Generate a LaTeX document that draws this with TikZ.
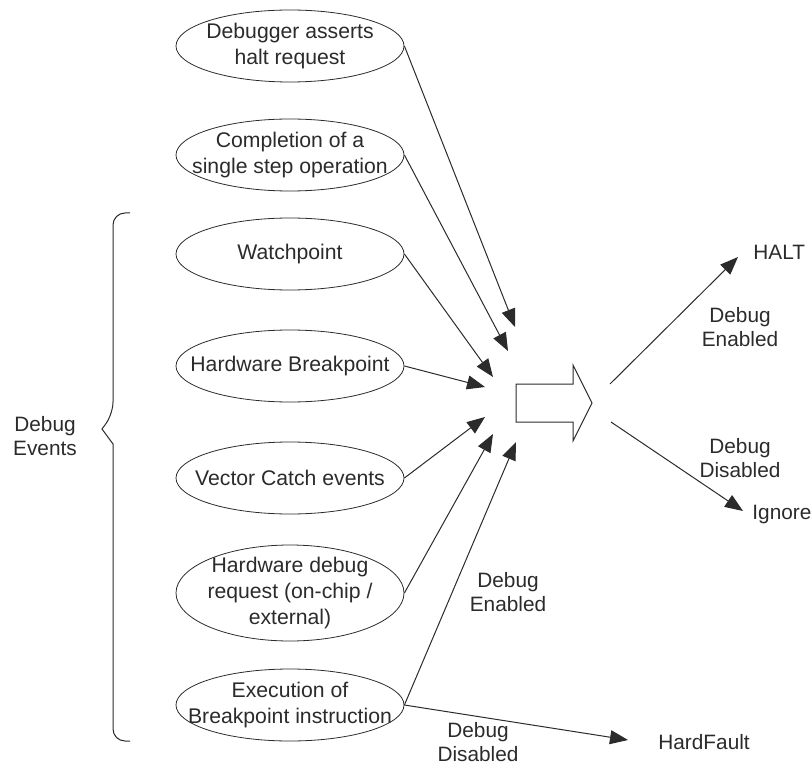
\documentclass[tikz,border=0pt]{standalone}
\usepackage{fontspec}
\setmainfont{Liberation Sans}
\usetikzlibrary{arrows.meta,shapes.geometric}
\definecolor{inkGray}{HTML}{2B2B2B}

\begin{document}
\begin{tikzpicture}[x=0.5pt,y=-0.5pt,
    evt/.style={draw=inkGray,ellipse,inner sep=0pt,minimum width=114pt,minimum height=36pt},
    evttext/.style={align=center,inner sep=0pt,font=\fontsize{10.6}{12.8}\selectfont,text=inkGray},
    lbl/.style={align=center,inner sep=0pt,font=\fontsize{10.4}{12.2}\selectfont,text=inkGray},
    flow/.style={draw=inkGray,line width=0.5pt,-{Triangle[length=9pt,width=7pt]}}]
  \useasboundingbox (0,0) rectangle (812,764);

  \node[evt,label={[evttext]center:Debugger asserts\\halt request}] (halt req) at (290,46) {};
  \node[evt,label={[evttext]center:Completion of a\\single step operation}] (step) at (290,155) {};
  \node[evt,label={[evttext]center:Watchpoint}] (watch) at (290,254) {};
  \node[evt,label={[evttext]center:Hardware Breakpoint}] (hwbp) at (290,366) {};
  \node[evt,label={[evttext]center:Vector Catch events}] (vcatch) at (290,478) {};
  \node[evt,minimum height=48pt,label={[evttext]center:Hardware debug\\request (on-chip /\\external)}] (hwreq) at (290,593) {};
  \node[evt,label={[evttext]center:Execution of\\Breakpoint instruction}] (bkpt) at (290,705) {};

  \coordinate (tip1) at (515,327);
  \coordinate (tip2) at (508,351);
  \coordinate (tip3) at (493,377);
  \coordinate (tip4) at (485,387);
  \coordinate (tip5) at (485,417);
  \coordinate (tip6) at (493,434);
  \coordinate (tip7) at (516,442);

  \draw[flow] (halt req.east) -- (tip1);
  \draw[flow] (step.east) -- (tip2);
  \draw[flow] (watch.east) -- (tip3);
  \draw[flow] (hwbp.east) -- (tip4);
  \draw[flow] (vcatch.east) -- (tip5);
  \draw[flow] (hwreq.east) -- (tip6);
  \draw[flow] (bkpt.east) -- (tip7);

  \draw[draw=inkGray,line width=0.5pt] (516,384) -- (573,384) -- (573,365) -- (592,403)
    -- (573,441) -- (573,422) -- (516,422) -- cycle;

  \coordinate (out up) at (610,384);
  \coordinate (out down) at (611,422);
  \coordinate (halt tip) at (738,257);
  \coordinate (ignore tip) at (743,511);
  \coordinate (fault tip) at (628,740);

  \node[lbl,anchor=west] (halt) at (753,252) {HALT};
  \node[lbl,anchor=west] (ignore) at (752,514) {Ignore};
  \node[lbl,anchor=west] (fault) at (658,742) {HardFault};

  \draw[flow] (out up) -- (halt tip);
  \draw[flow] (out down) -- (ignore tip);
  \draw[flow] (bkpt.east) -- (fault tip);

  \node[lbl] (en right) at (740,327) {Debug\\Enabled};
  \node[lbl] (dis right) at (740,458) {Debug\\Disabled};
  \node[lbl] (en low) at (508,592) {Debug\\Enabled};
  \node[lbl] (dis low) at (478,742) {Debug\\Disabled};

  \node[lbl] (events) at (45,436) {Debug\\Events};
  \draw[draw=inkGray,line width=0.5pt,rounded corners=6pt] (130,213) -- (113,213) -- (113,414)
    [sharp corners] -- (102,429) -- (113,444) [rounded corners=6pt] -- (113,741) -- (130,741);
\end{tikzpicture}
\end{document}
